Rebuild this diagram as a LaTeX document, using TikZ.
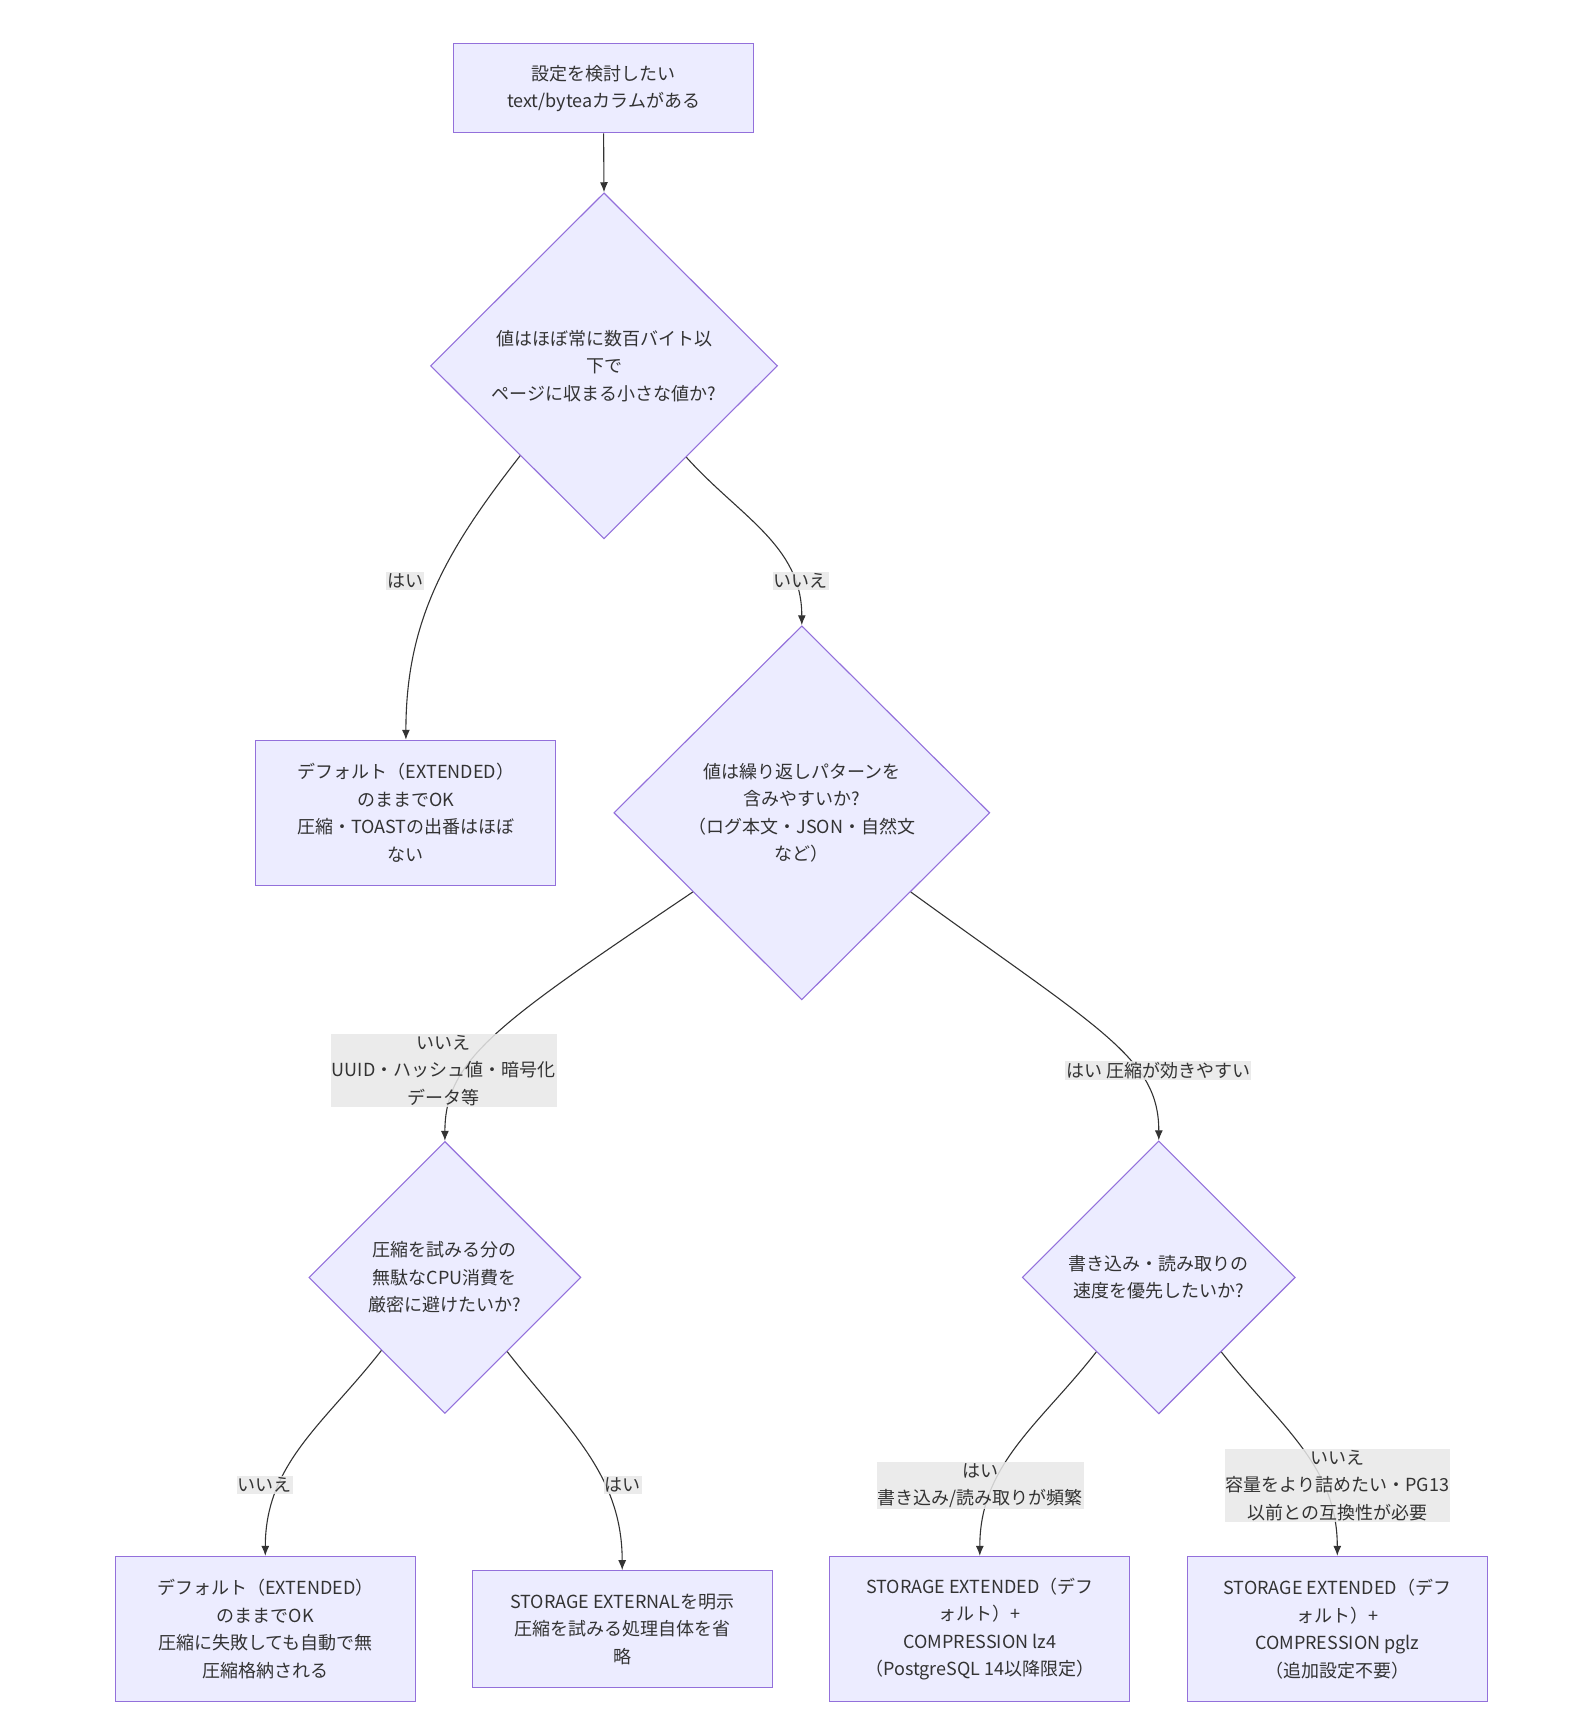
\documentclass[tikz,border=0pt]{standalone}
\usepackage{fontspec}
\setmainfont{Noto Sans CJK JP}
\usetikzlibrary{shapes.geometric,arrows.meta}
\definecolor{nodefill}{HTML}{ECECFF}
\definecolor{nodeline}{HTML}{9370DB}
\definecolor{edgeline}{HTML}{333333}
\definecolor{lblfill}{HTML}{E8E8E8}
\definecolor{txtcol}{HTML}{333333}
\begin{document}
\begin{tikzpicture}[x=1pt,y=1pt,
    every node/.style={font=\fontsize{18}{27.5}\selectfont,text=txtcol,align=center},
    box/.style={draw=nodeline,line width=1.1pt,fill=nodefill,minimum width=300,minimum height=145,inner sep=0},
    choice/.style={diamond,draw=nodeline,line width=1.1pt,fill=nodefill,inner sep=0},
    elbl/.style={fill=lblfill,fill opacity=0.85,text opacity=1,inner xsep=1,inner ysep=1.5},
    arr/.style={draw=edgeline,line width=1.1pt,-{Latex[length=10pt,width=8pt]}}]
      \useasboundingbox (0,0) rectangle (1574,-1722);

      % boxes and questions
      \node [box,minimum height=89] (start) at (603.6,-88.4) {設定を検討したい\\text/byteaカラムがある};
      \node [choice,minimum width=347,minimum height=346] (small) at (604,-365.8) {値はほぼ常に数百バイト以\\下で\\ページに収まる小さな値か?};
      \node [box] (keep) at (405.9,-812.8) {デフォルト（EXTENDED）\\のままでOK\\圧縮・TOASTの出番はほぼ\\ない};
      \node [choice,minimum width=376,minimum height=374] (repeat) at (801.8,-812.8) {値は繰り返しパターンを\\含みやすいか?\\（ログ本文・JSON・自然文\\など）};
      \node [choice,minimum width=272,minimum height=272] (cpu) at (444.9,-1277.4) {圧縮を試みる分の\\無駄なCPU消費を\\厳密に避けたいか?};
      \node [choice,minimum width=273,minimum height=273] (speed) at (1158.8,-1277.4) {書き込み・読み取りの\\速度を優先したいか?};
      \node [box] (extdef) at (265.3,-1628.9) {デフォルト（EXTENDED）\\のままでOK\\圧縮に失敗しても自動で無\\圧縮格納される};
      \node [box,minimum height=116.5] (external) at (622.2,-1629) {STORAGE EXTERNALを明示\\圧縮を試みる処理自体を省\\略};
      \node [box] (lzfour) at (979.8,-1628.9) {STORAGE EXTENDED（デフ\\ォルト）+\\COMPRESSION lz4\\（PostgreSQL 14以降限定）};
      \node [box] (pglz) at (1337.3,-1628.9) {STORAGE EXTENDED（デフ\\ォルト）+\\COMPRESSION pglz\\（追加設定不要）};

      % connectors
      \draw [arr] (start.south) -- (small.north);
      \draw [arr] (small.227) to[out=232,in=90] (keep.north);
      \draw [arr] (small.312.5) to[out=-48,in=90] (repeat.north);
      \draw [arr] (repeat.216) to[out=214,in=90,out looseness=1.7,in looseness=0.6] (cpu.north);
      \draw [arr] (repeat.324) to[out=-36,in=90,out looseness=1.7,in looseness=0.6] (speed.north);
      \draw [arr] (cpu.229) to[out=232,in=90] (extdef.north);
      \draw [arr] (cpu.310.5) to[out=-52,in=90] (external.north);
      \draw [arr] (speed.230) to[out=232,in=90] (lzfour.north);
      \draw [arr] (speed.310.5) to[out=-52,in=90] (pglz.north);

      % edge labels
      \node [elbl] (ysmall) at (405.3,-581) {はい};
      \node [elbl] (nsmall) at (800.7,-581) {いいえ};
      \node [elbl] (nrepeat) at (443.8,-1070.4) {いいえ\\UUID・ハッシュ値・暗号化\\データ等};
      \node [elbl] (yrepeat) at (1158.3,-1070.4) {はい 圧縮が効きやすい};
      \node [elbl] (ncpu) at (264.7,-1485) {いいえ};
      \node [elbl] (ycpu) at (622.8,-1485) {はい};
      \node [elbl] (yspeed) at (980.3,-1485.6) {はい\\書き込み/読み取りが頻繁};
      \node [elbl] (nspeed) at (1337.3,-1485.6) {いいえ\\容量をより詰めたい・PG13\\以前との互換性が必要};
\end{tikzpicture}
\end{document}
